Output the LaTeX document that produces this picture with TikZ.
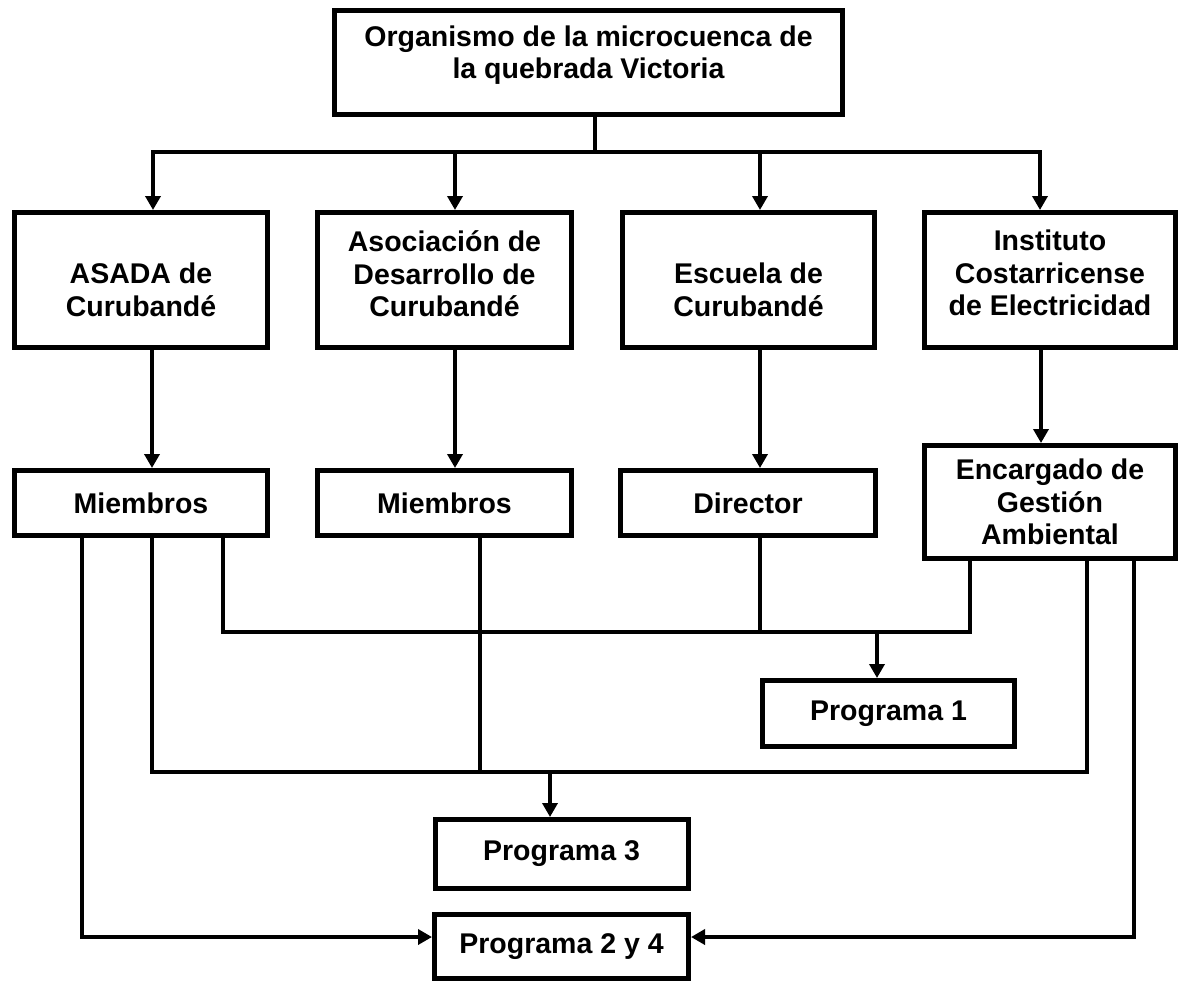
\documentclass[tikz,border=0pt]{standalone}
\usepackage{fontspec}
\setmainfont{Liberation Sans}
\usetikzlibrary{arrows.meta,calc}
\begin{document}
\begin{tikzpicture}[x=1pt,y=-1pt,
  box/.style={draw,line width=5pt,rectangle,inner sep=0pt},
  txt/.style={align=center,inner sep=0pt,font=\fontsize{28.5}{32.5}\selectfont\bfseries},
  conn/.style={line width=4pt,line join=miter},
  arr/.style={conn,-{Triangle[length=14pt,width=15pt]}}]
\useasboundingbox (0,0) rectangle (1181,983);
% boxes
\node[box,minimum width=508,minimum height=104] (top) at (588.5,62.5) {};
\node[txt] (ttop) at (588.5,55) {Organismo de la microcuenca de\\la quebrada Victoria};

\node[box,minimum width=253,minimum height=135] (b1) at (141,280) {};
\node[box,minimum width=254,minimum height=135] (b2) at (444.5,280) {};
\node[box,minimum width=252,minimum height=135] (b3) at (748.5,280) {};
\node[box,minimum width=251,minimum height=135] (b4) at (1050,280) {};
\node[txt] (t1) at (141,290) {ASADA de\\Curubandé};
\node[txt] (t2) at (444.5,274) {Asociación de\\Desarrollo de\\Curubandé};
\node[txt] (t3) at (748.5,290) {Escuela de\\Curubandé};
\node[txt] (t4) at (1050,273) {Instituto\\Costarricense\\de Electricidad};

\node[box,txt,minimum width=253,minimum height=65] (m1) at (141,503) {Miembros};
\node[box,txt,minimum width=254,minimum height=65] (m2) at (444.5,503) {Miembros};
\node[box,txt,minimum width=255,minimum height=65] (dir) at (748,503) {Director};
\node[box,txt,minimum width=251,minimum height=113] (enc) at (1050,502) {Encargado de\\Gestión\\Ambiental};

\node[box,txt,minimum width=252,minimum height=66] (p1) at (888.5,713.5) {Programa 1};
\node[box,txt,minimum width=253,minimum height=69] (p3) at (561.5,854) {Programa 3};
\node[box,txt,minimum width=254,minimum height=64] (p24) at (561.5,946.5) {Programa 2 y 4};

% coordinates
\coordinate (h0) at (595,152);
\coordinate (hL) at (153,152);
\coordinate (hb) at (455,152);
\coordinate (hc) at (760,152);
\coordinate (hR) at (1040,152);
\coordinate (xa) at (152,0);
\coordinate (xb) at (455,0);
\coordinate (xc) at (760,0);
\coordinate (xd) at (1041,0);
\coordinate (x1) at (82,0);
\coordinate (x3) at (223,0);
\coordinate (x4) at (480,0);
\coordinate (x6) at (877,0);
\coordinate (x7) at (970,0);
\coordinate (x8) at (1087,0);
\coordinate (x9) at (1134,0);
\coordinate (x10) at (550,0);
\coordinate (yA) at (0,632);
\coordinate (yB) at (0,772);
\coordinate (yC) at (0,937);

% top distribution
\draw[conn] (top.south -| h0) -- (h0);
\draw[arr] (h0) -- (hL) -- (b1.north -| hL);
\draw[arr] (h0) -- (hR) -- (b4.north -| hR);
\draw[arr] (hb) -- (b2.north -| hb);
\draw[arr] (hc) -- (b3.north -| hc);

% row 2 to row 3
\draw[arr] (b1.south -| xa) -- (m1.north -| xa);
\draw[arr] (b2.south -| xb) -- (m2.north -| xb);
\draw[arr] (b3.south -| xc) -- (dir.north -| xc);
\draw[arr] (b4.south -| xd) -- (enc.north -| xd);

% Programa 1
\draw[conn] (m1.south -| x3) -- (x3 |- yA) -- (x7 |- yA) -- (enc.south -| x7);
\draw[conn] (dir.south -| xc) -- (xc |- yA);
\draw[arr] (x6 |- yA) -- (p1.north -| x6);

% Programa 3
\draw[conn] (m1.south -| xa) -- (xa |- yB) -- (x8 |- yB) -- (enc.south -| x8);
\draw[conn] (m2.south -| x4) -- (x4 |- yB);
\draw[arr] (x10 |- yB) -- (p3.north -| x10);

% Programa 2 y 4
\draw[arr] (m1.south -| x1) -- (x1 |- yC) -- (p24.west |- yC);
\draw[arr] (enc.south -| x9) -- (x9 |- yC) -- (p24.east |- yC);
\end{tikzpicture}
\end{document}
